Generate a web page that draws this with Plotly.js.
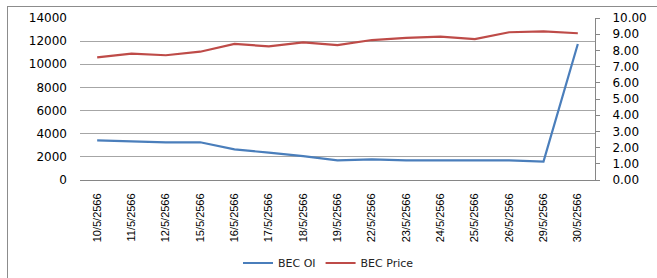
<!DOCTYPE html>
<html>
<head>
<meta charset="utf-8">
<script src="https://cdn.plot.ly/plotly-3.0.1.min.js"></script>
<style>
html,body{margin:0;padding:0;background:#fff;overflow:hidden;}
#frame{position:absolute;left:7px;top:6px;width:700px;height:300px;border:1px solid #8c8c8c;box-sizing:border-box;pointer-events:none;}
#chart{position:absolute;left:0;top:0;width:657px;height:278px;}
</style>
</head>
<body>
<div id="chart"></div>
<div id="frame"></div>
<script>
const dates = ["10/5/2566","11/5/2566","12/5/2566","15/5/2566","16/5/2566","17/5/2566","18/5/2566","19/5/2566","22/5/2566","23/5/2566","24/5/2566","25/5/2566","26/5/2566","29/5/2566","30/5/2566"];
const becOI = [3430,3350,3260,3260,2650,2360,2070,1690,1790,1700,1690,1690,1690,1590,11750];
const becPrice = [7.57,7.80,7.70,7.92,8.40,8.25,8.50,8.33,8.64,8.77,8.85,8.70,9.12,9.18,9.06];
const leftTicks = [0,2000,4000,6000,8000,10000,12000,14000];
const rightTicks = [0,1,2,3,4,5,6,7,8,9,10];

const traces = [
  {x: dates, y: becOI, name: "BEC OI", type: "scatter", mode: "lines",
   line: {color: "#4A7EBB", width: 2.2}, yaxis: "y"},
  {x: dates, y: becPrice, name: "BEC Price", type: "scatter", mode: "lines",
   line: {color: "#BE4B48", width: 2.2}, yaxis: "y2"}
];

const layout = {
  width: 657, height: 278,
  margin: {l: 80, r: 62, t: 18, b: 98},
  paper_bgcolor: "#ffffff", plot_bgcolor: "#ffffff",
  showlegend: true,
  legend: {orientation: "h", xref: "container", yref: "container", x: 0.5, xanchor: "center",
           y: 0.054, yanchor: "middle", font: {family: "DejaVu Sans", size: 11, color: "#222"},
           itemwidth: 30, tracegroupgap: 0},
  xaxis: {type: "category", range: [-0.5, 14.5], tickangle: -90, ticks: "",
          tickfont: {family: "Liberation Sans, Arial", size: 11, color: "#000"},
          showgrid: false, showline: true, linecolor: "#868686", linewidth: 1,
          ticklabelstandoff: 8, fixedrange: true},
  yaxis: {range: [0, 14000], tickvals: leftTicks, ticktext: leftTicks.map(String),
          showgrid: true, gridcolor: "#a6a6a6", gridwidth: 1, zeroline: false,
          showline: false, ticks: "", ticklabelstandoff: 12,
          tickfont: {family: "DejaVu Sans", size: 12, color: "#000"}},
  yaxis2: {range: [0, 10], overlaying: "y", side: "right", tickvals: rightTicks,
           ticktext: rightTicks.map(v => v.toFixed(2)), showgrid: false, zeroline: false,
           showline: true, linecolor: "#868686", linewidth: 1, ticks: "outside", ticklen: 4,
           tickcolor: "#868686", ticklabelstandoff: 10,
           tickfont: {family: "DejaVu Sans", size: 12, color: "#000"}}
};

Plotly.newPlot("chart", traces, layout, {displayModeBar: false, staticPlot: true});
</script>
</body>
</html>
